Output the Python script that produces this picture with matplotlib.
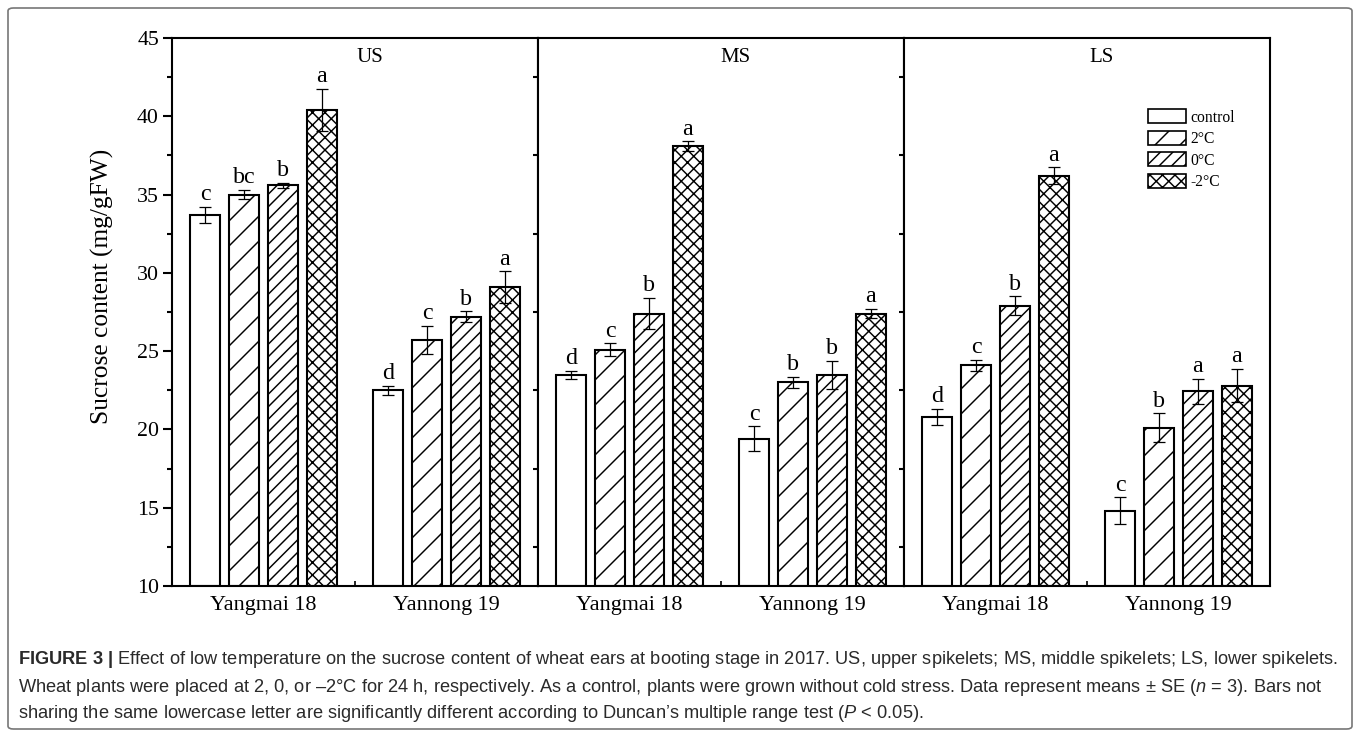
import matplotlib
matplotlib.use("Agg")
import matplotlib.pyplot as plt
import numpy as np
from matplotlib.patches import Patch, FancyBboxPatch
from matplotlib.ticker import MultipleLocator, FixedLocator

# sucrose content (mg/gFW), mean and SE, per spikelet position and cultivar
positions = ["US", "MS", "LS"]
cultivars = ["Yangmai 18", "Yannong 19"]
treatments = ["control", "2°C", "0°C", "-2°C"]
hatches = ["", "//", "////", "xxxx"]

means = {
    "US": [[33.7, 35.0, 35.6, 40.4], [22.5, 25.7, 27.2, 29.1]],
    "MS": [[23.5, 25.1, 27.4, 38.1], [19.4, 23.0, 23.5, 27.4]],
    "LS": [[20.8, 24.1, 27.9, 36.2], [14.8, 20.1, 22.45, 22.8]],
}
errors = {
    "US": [[0.5, 0.3, 0.15, 1.35], [0.3, 0.9, 0.35, 1.0]],
    "MS": [[0.25, 0.4, 1.0, 0.3], [0.8, 0.35, 0.9, 0.3]],
    "LS": [[0.5, 0.35, 0.6, 0.55], [0.87, 0.92, 0.8, 1.05]],
}
letters = {
    "US": [["c", "bc", "b", "a"], ["d", "c", "b", "a"]],
    "MS": [["d", "c", "b", "a"], ["c", "b", "b", "a"]],
    "LS": [["d", "c", "b", "a"], ["c", "b", "a", "a"]],
}

caption = [
    r"$\mathbf{FIGURE\ 3\ |}$ Effect of low temperature on the sucrose content of wheat ears at booting stage in 2017. "
    "US, upper spikelets; MS, middle spikelets; LS, lower spikelets.",
    r"Wheat plants were placed at 2, 0, or –2°C for 24 h, respectively. As a control, plants were grown without cold "
    r"stress. Data represent means ± SE ($n$ = 3). Bars not",
    r"sharing the same lowercase letter are significantly different according to Duncan’s multiple range test "
    r"($P$ < 0.05).",
]

plt.rcParams["font.family"] = "Liberation Serif"
plt.rcParams["hatch.linewidth"] = 0.7
plt.rcParams["mathtext.fontset"] = "custom"
plt.rcParams["mathtext.rm"] = "Liberation Sans"
plt.rcParams["mathtext.it"] = "Liberation Sans:italic"
plt.rcParams["mathtext.bf"] = "Liberation Sans:bold"

W, H, DPI = 1358, 738, 150
fig = plt.figure(figsize=(W / DPI, H / DPI), dpi=DPI)

left, right, top, bottom = 172 / W, 1270 / W, 1 - 38 / H, 1 - 586 / H
pw = (right - left) / 3

step, width = 0.213, 0.169
offsets = (np.arange(4) - 1.5) * step
group_x = np.array([0.5, 1.5])

axes = []
for i, pos in enumerate(positions):
    ax = fig.add_axes([left + i * pw, bottom, pw, top - bottom])
    axes.append(ax)
    for g, cult in enumerate(cultivars):
        for t in range(4):
            x = group_x[g] + offsets[t]
            m = means[pos][g][t]
            e = errors[pos][g][t]
            ax.bar(x, m - 10, bottom=10, width=width, facecolor="white",
                   edgecolor="black", linewidth=1.0, hatch=hatches[t], zorder=2)
            ax.errorbar(x, m, yerr=e, color="black", elinewidth=0.6,
                        capsize=2.9, capthick=0.6, zorder=3)
            ax.annotate(letters[pos][g][t], (x, m + e), xytext=(0, 3.2),
                        textcoords="offset points", ha="center", va="baseline",
                        fontsize=11.5)
    ax.set_xlim(0, 2)
    ax.set_ylim(10, 45)
    ax.text(0.54, 0.965, pos, transform=ax.transAxes, ha="center", va="center",
            fontsize=10)

    ax.xaxis.set_major_locator(FixedLocator(group_x))
    ax.set_xticklabels(cultivars, fontsize=10.6)
    ax.xaxis.set_minor_locator(FixedLocator([1.0]))
    ax.tick_params(axis="x", which="major", length=0, pad=5)
    ax.tick_params(axis="x", which="minor", direction="in", length=2.5, width=0.8)

    ax.yaxis.set_major_locator(MultipleLocator(5))
    ax.yaxis.set_minor_locator(MultipleLocator(2.5))
    if i == 0:
        ax.tick_params(axis="y", which="major", direction="out", length=4.3,
                       width=1.0, labelsize=10.5, pad=2)
        ax.tick_params(axis="y", which="minor", direction="out", length=2.6,
                       width=1.0)
        ax.set_ylabel("Sucrose content (mg/gFW)", fontsize=12.2)
        ax.yaxis.set_label_coords(-0.159, 0.546)
    else:
        ax.tick_params(axis="y", which="major", length=0, labelleft=False)
        ax.tick_params(axis="y", which="minor", direction="out", length=2.6,
                       width=1.0)
    for sp in ax.spines.values():
        sp.set_linewidth(1.0)

handles = [Patch(facecolor="white", edgecolor="black", linewidth=0.8,
                 hatch=h, label=t) for h, t in zip(hatches, treatments)]
axes[2].legend(handles=handles, loc="upper left", bbox_to_anchor=(0.667, 0.870),
               frameon=False, fontsize=7.5, handlelength=2.4, handleheight=1.0,
               labelspacing=0.33, handletextpad=0.3, borderpad=0,
               borderaxespad=0)

for k, line in enumerate(caption):
    fig.text(18 / W, 1 - (660 + 27 * k) / H, line, ha="left", va="center",
             fontsize=8.75, family="Liberation Sans", color="#2a2a2a")

frame = FancyBboxPatch((8 / W, 9 / H), 1344 / W, 721 / H,
                       boxstyle="round,pad=0,rounding_size=0.004",
                       transform=fig.transFigure, facecolor="none",
                       edgecolor="#777777", linewidth=0.8)
fig.patches.append(frame)

fig.savefig("out.png", dpi=DPI)
